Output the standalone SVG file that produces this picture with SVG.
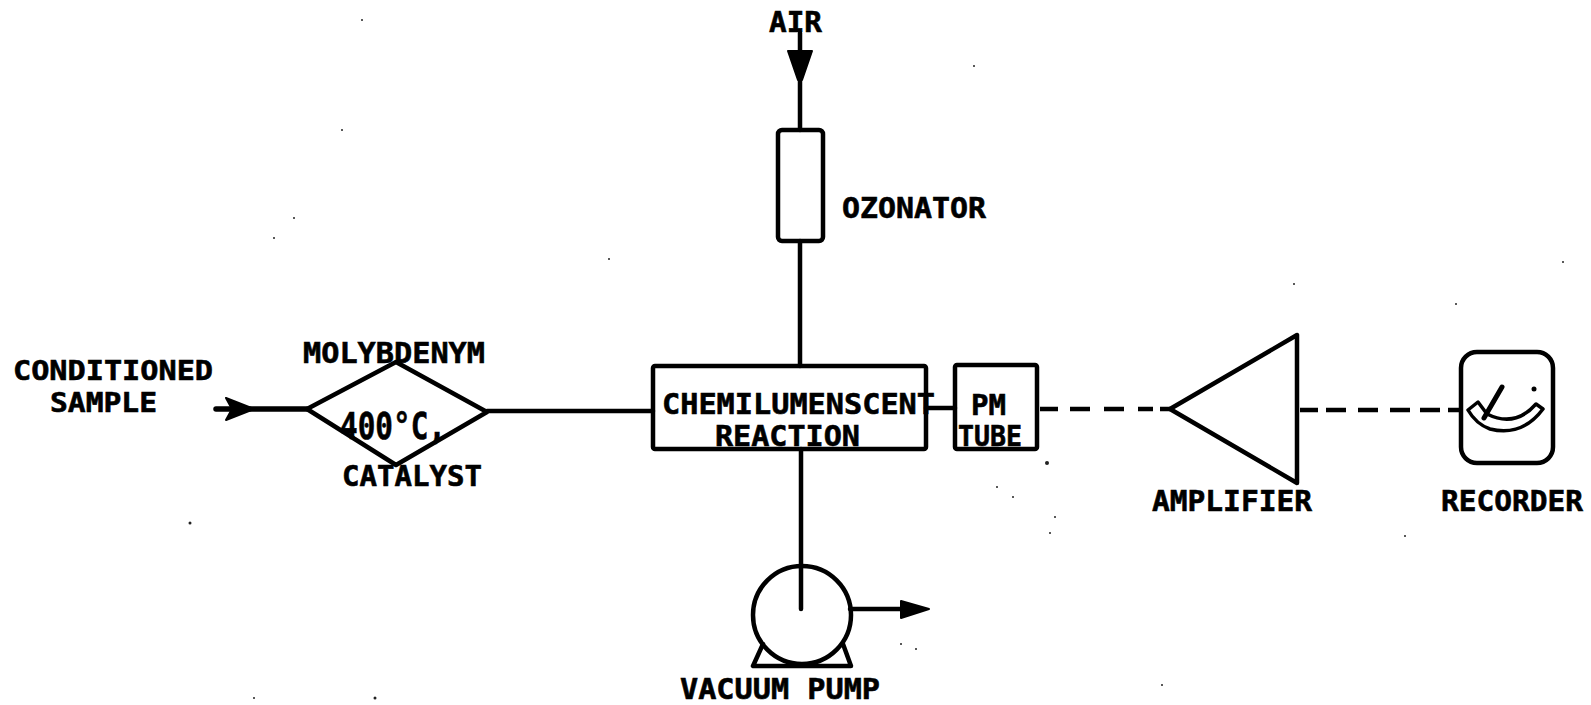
<svg xmlns="http://www.w3.org/2000/svg" width="1591" height="705" viewBox="0 0 1591 705">
<style>
.l{fill:none;stroke:#000;stroke-width:4.5;stroke-linejoin:round;stroke-linecap:round}
.d{stroke-linecap:butt}
.h{fill:#000;stroke:#000;stroke-width:2;stroke-linejoin:round}
text{font-family:"DejaVu Sans Mono","Liberation Mono",monospace;font-weight:700;font-size:29px;fill:#000;stroke:#000;stroke-width:.6}
.t{font-size:27px}
.s{fill:#222}
</style>
<rect width="1591" height="705" fill="#fff"/>
<g id="connectors">
<path class="l" d="M800 33V130"/>
<path class="h" d="M788 51L812 51L802 80L798 80Z"/>
<path class="l" d="M800 241V366"/>
<path class="l" d="M216 409H307" style="stroke-width:5.5"/>
<path class="h" d="M226 398L254 409L226 420L232 409Z"/>
<path class="l" d="M487 411H653"/>
<path class="l" d="M926 408H955"/>
<path class="l" d="M801 449V609"/>
<path class="l" d="M850 609H905"/>
<path class="h" d="M901 601L929 609L901 618Z"/>
<path class="l d" d="M1040 409H1058M1070 409H1090M1104 409H1124M1138 409H1153M1160 409H1170"/>
<path class="l d" d="M1300 410H1318M1326 410H1346M1358 410H1378M1390 410H1410M1420 410H1440M1448 410H1460"/>
</g>
<g id="sample"><text class="t" x="13" y="380" textLength="200" lengthAdjust="spacingAndGlyphs">CONDITIONED</text><text class="t" x="50" y="412" textLength="107" lengthAdjust="spacingAndGlyphs">SAMPLE</text></g>
<g id="catalyst">
<path class="l" d="M307 409L396 362L487 412L396 465Z"/>
<text x="303" y="363" textLength="182" lengthAdjust="spacingAndGlyphs">MOLYBDENYM</text>
<text x="340" y="439" textLength="106" lengthAdjust="spacingAndGlyphs" style="font-size:38px">400°C,</text>
<text x="342" y="486" textLength="140" lengthAdjust="spacingAndGlyphs">CATALYST</text>
</g>
<g id="reaction">
<rect class="l" x="653" y="366" width="273" height="83" rx="2"/>
<text x="662" y="414" textLength="273" lengthAdjust="spacingAndGlyphs">CHEMILUMENSCENT</text>
<text x="715" y="446" textLength="145" lengthAdjust="spacingAndGlyphs">REACTION</text>
</g>
<g id="pm-tube">
<rect class="l" x="955" y="365" width="82" height="84" rx="2"/>
<text x="971" y="415" textLength="35" lengthAdjust="spacingAndGlyphs">PM</text>
<text x="958" y="446" textLength="64" lengthAdjust="spacingAndGlyphs">TUBE</text>
</g>
<g id="ozonator">
<rect class="l" x="778" y="130" width="45" height="111" rx="4"/>
<text x="842" y="218" textLength="144" lengthAdjust="spacingAndGlyphs">OZONATOR</text>
</g>
<g id="air"><text x="769" y="32" textLength="53" lengthAdjust="spacingAndGlyphs">AIR</text></g>
<g id="amplifier">
<path class="l" d="M1170 409L1297 335V483Z"/>
<text x="1152" y="511" textLength="160" lengthAdjust="spacingAndGlyphs">AMPLIFIER</text>
</g>
<g id="recorder">
<rect class="l" x="1461" y="352" width="92" height="111" rx="16"/>
<path class="l" d="M1468 410L1478 402L1487 414Q1515 428 1536 404L1543 409Q1522 437 1490 429Q1476 424 1468 410Z" style="stroke-width:3.5"/>
<path class="l" d="M1502 387L1484 418" style="stroke-width:5"/>
<circle cx="1534" cy="389" r="2.5"/>
<text x="1441" y="511" textLength="142" lengthAdjust="spacingAndGlyphs">RECORDER</text>
</g>
<g id="vacuum-pump">
<circle class="l" cx="802" cy="615" r="49"/>
<path class="l" d="M763 644L753 666H851L843 644"/>
<text x="680" y="699" textLength="200" lengthAdjust="spacingAndGlyphs">VACUUM PUMP</text>
</g>
<g id="specks" class="s">
<circle cx="362" cy="20" r="1"/><circle cx="974" cy="66" r="1"/><circle cx="342" cy="130" r="1"/><circle cx="294" cy="218" r="1"/><circle cx="274" cy="238" r="1"/><circle cx="609" cy="259" r="1"/><circle cx="1294" cy="284" r="1"/><circle cx="1563" cy="262" r="1"/><circle cx="1456" cy="304" r="1"/><circle cx="1047" cy="463" r="2"/><circle cx="997" cy="487" r="1"/><circle cx="1013" cy="497" r="1"/><circle cx="1055" cy="517" r="1"/><circle cx="1050" cy="533" r="1"/><circle cx="190" cy="523" r="1.5"/><circle cx="1405" cy="536" r="1"/><circle cx="1162" cy="685" r="1"/><circle cx="901" cy="644" r="1"/><circle cx="916" cy="649" r="1"/><circle cx="254" cy="698" r="1"/><circle cx="375" cy="698" r="1.5"/>
</g>
</svg>
